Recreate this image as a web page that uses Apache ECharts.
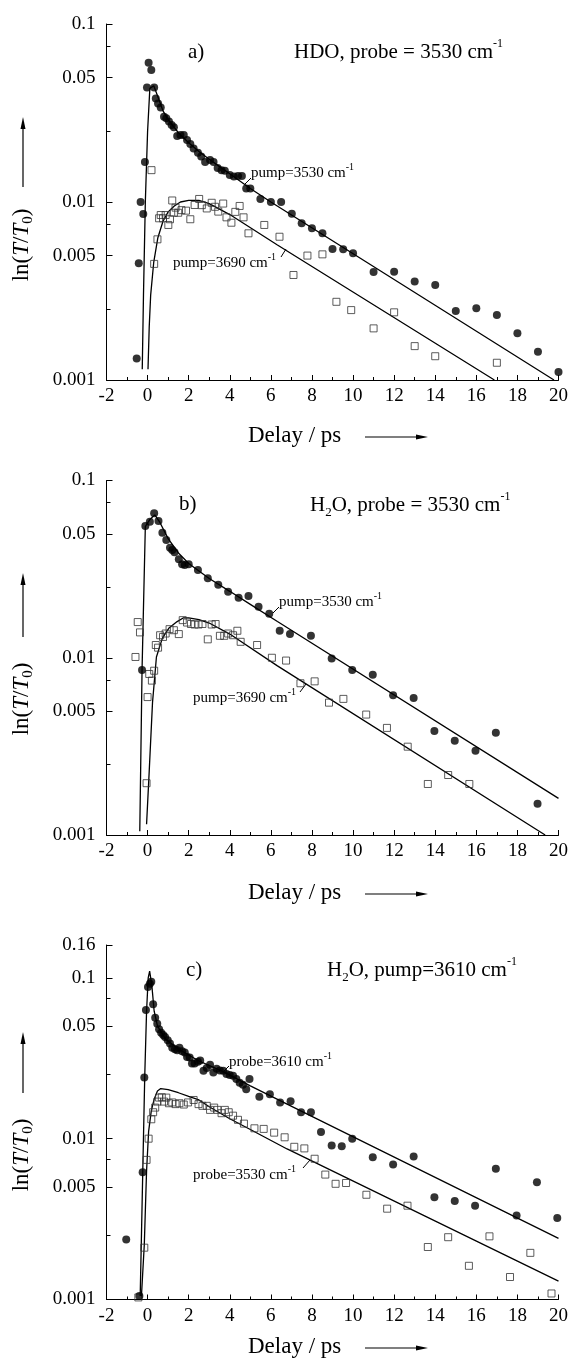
<!DOCTYPE html>
<html><head><meta charset="utf-8">
<script src="https://cdn.jsdelivr.net/npm/echarts@6/dist/echarts.min.js"></script>
<style>html,body{margin:0;padding:0;background:#fff}#c{width:571px;height:1363px}</style>
</head><body><div id="c"></div>
<script>
// ---------- tick definitions ----------
const xMin = -2, xMax = 20, xInterval = 2;
const yLabelsAB = [0.001, 0.005, 0.01, 0.05, 0.1];
const yLabelsC = [0.001, 0.005, 0.01, 0.05, 0.1, 0.16];
const yMinorTicks = [0.0025, 0.0075, 0.025, 0.075];

// ---------- panel a : HDO, probe = 3530 ----------
const aPump3530Points = [[-0.53,0.00132],[-0.43,0.00453],[-0.34,0.0100],[-0.21,0.00857],[-0.13,0.0168],[-0.03,0.0440],[0.05,0.0606],[0.18,0.0552],[0.32,0.0440],[0.40,0.0382],[0.51,0.0358],[0.64,0.0340],[0.80,0.0301],[0.91,0.0295],[1.04,0.0283],[1.17,0.0271],[1.28,0.0263],[1.44,0.0235],[1.60,0.0238],[1.76,0.0238],[1.92,0.0223],[2.08,0.0212],[2.24,0.0200],[2.45,0.0189],[2.61,0.0180],[2.80,0.0168],[3.04,0.0172],[3.21,0.0168],[3.41,0.0155],[3.60,0.0151],[3.76,0.0150],[4.00,0.0142],[4.20,0.0139],[4.40,0.0140],[4.59,0.0140],[4.80,0.0119],[5.00,0.0119],[5.49,0.0104],[6.00,0.0100],[6.50,0.0100],[7.02,0.0086],[7.50,0.0076],[8.00,0.00711],[8.51,0.00667],[9.00,0.00544],[9.52,0.00542],[10.0,0.00515],[11.0,0.00404],[12.0,0.00405],[13.0,0.00358],[14.0,0.00342],[15.0,0.00244],[16.0,0.00253],[17.0,0.00232],[18.0,0.00183],[19.0,0.00144],[20.0,0.00111]];
const aPump3690Points = [[0.19,0.0151],[0.32,0.00449],[0.48,0.00617],[0.56,0.0081],[0.64,0.00845],[0.75,0.0081],[0.88,0.00845],[1.01,0.00743],[1.09,0.0080],[1.20,0.0102],[1.28,0.0087],[1.36,0.0093],[1.49,0.0087],[1.65,0.0090],[1.87,0.00894],[2.08,0.0080],[2.29,0.00962],[2.51,0.0104],[2.64,0.0096],[2.88,0.0092],[3.12,0.0099],[3.28,0.0094],[3.44,0.00883],[3.68,0.0098],[3.84,0.0082],[4.08,0.00765],[4.27,0.0088],[4.48,0.0095],[4.67,0.0082],[4.91,0.00667],[5.68,0.00743],[6.42,0.00638],[7.10,0.00389],[7.78,0.0050],[8.51,0.00508],[9.19,0.00275],[9.91,0.00247],[11.0,0.00195],[12.0,0.0024],[13.0,0.00155],[14.0,0.00136],[17.0,0.00125]];
const aFit3530 = [[-0.26,0.00115],[-0.2,0.003],[-0.11,0.01],[0.0,0.025],[0.11,0.0435],[0.3,0.045],[0.5,0.039],[0.75,0.0325],[1,0.029],[1.5,0.0245],[2,0.0215],[2.5,0.0192],[3,0.0174],[3.5,0.0158],[4,0.0144],[5,0.0119],[6,0.0100],[19.78,0.001]];
const aFit3690 = [[0.02,0.00115],[0.08,0.002],[0.15,0.003],[0.3,0.0046],[0.5,0.0063],[0.75,0.0078],[1.0,0.0088],[1.3,0.0095],[1.6,0.0100],[2.0,0.0102],[2.5,0.0102],[3,0.0098],[4,0.0085],[6.32,0.00573],[16.88,0.001]];

// ---------- panel b : H2O, probe = 3530 ----------
const bPump3530Points = [[-0.27,0.00853],[-0.11,0.0554],[0.11,0.0586],[0.32,0.0653],[0.53,0.059],[0.72,0.0508],[0.91,0.0462],[1.09,0.0418],[1.20,0.0406],[1.31,0.0394],[1.52,0.0359],[1.68,0.0337],[1.81,0.0334],[2.0,0.0337],[2.45,0.0313],[2.93,0.0281],[3.44,0.0258],[3.92,0.0236],[4.43,0.0218],[4.91,0.0223],[5.40,0.0194],[5.92,0.0177],[6.43,0.0142],[6.93,0.0136],[7.95,0.0133],[8.96,0.00989],[9.96,0.00853],[10.96,0.00803],[11.95,0.00614],[12.95,0.00593],[13.96,0.00386],[14.95,0.0034],[15.96,0.00299],[16.95,0.00378],[18.98,0.0015]];
const bPump3690Points = [[-0.59,0.0101],[-0.48,0.0159],[-0.37,0.0139],[-0.05,0.00196],[0.0,0.006],[0.08,0.0081],[0.21,0.00743],[0.32,0.00845],[0.40,0.0118],[0.51,0.0114],[0.61,0.0134],[0.75,0.0131],[0.88,0.0137],[1.07,0.0145],[1.28,0.0143],[1.52,0.0136],[1.71,0.0163],[1.92,0.0158],[2.11,0.0155],[2.29,0.0154],[2.48,0.0154],[2.67,0.0155],[2.93,0.0127],[3.12,0.0154],[3.31,0.0155],[3.52,0.0133],[3.73,0.0133],[3.92,0.0137],[4.16,0.0134],[4.37,0.0142],[4.53,0.0123],[5.33,0.0118],[6.05,0.0100],[6.74,0.00964],[7.44,0.00718],[8.13,0.00736],[8.83,0.00558],[9.53,0.00586],[10.64,0.00478],[11.65,0.00402],[12.66,0.00315],[13.64,0.00194],[14.63,0.00218],[15.66,0.00194]];
const bFit3530 = [[-0.38,0.00105],[-0.27,0.0085],[-0.11,0.055],[0.1,0.06],[0.35,0.064],[0.6,0.058],[1.0,0.047],[1.5,0.039],[2.0,0.034],[3,0.028],[4,0.0237],[5,0.0200],[6.32,0.0160],[20,0.00161]];
const bFit3690 = [[-0.05,0.00115],[0.08,0.0023],[0.24,0.0056],[0.43,0.0101],[0.72,0.0129],[1.04,0.0147],[1.44,0.016],[1.75,0.0168],[2.0,0.0168],[2.5,0.0164],[3,0.0157],[4,0.0136],[6.32,0.009],[19.35,0.001]];

// ---------- panel c : H2O, pump = 3610 ----------
const cProbe3610Points = [[-1.04,0.00236],[-0.40,0.00105],[-0.24,0.00618],[-0.16,0.024],[-0.08,0.063],[0.02,0.0876],[0.11,0.092],[0.18,0.0944],[0.27,0.0684],[0.37,0.0565],[0.47,0.0519],[0.56,0.0479],[0.66,0.0456],[0.76,0.0441],[0.85,0.0429],[0.98,0.0409],[1.09,0.039],[1.20,0.0368],[1.33,0.036],[1.44,0.0355],[1.55,0.0368],[1.68,0.035],[1.81,0.0343],[1.92,0.0322],[2.05,0.032],[2.16,0.0293],[2.29,0.0293],[2.45,0.0301],[2.56,0.0306],[2.72,0.0264],[2.88,0.0275],[3.04,0.0288],[3.20,0.0258],[3.36,0.0272],[3.52,0.0265],[3.68,0.0264],[3.84,0.0252],[4.00,0.0249],[4.16,0.0246],[4.32,0.0235],[4.48,0.0223],[4.64,0.0216],[4.80,0.0203],[4.96,0.0235],[5.44,0.0182],[5.95,0.0189],[6.45,0.0168],[6.96,0.0171],[7.47,0.0146],[7.95,0.0146],[8.44,0.011],[8.96,0.00908],[9.45,0.00896],[9.96,0.0100],[10.96,0.00766],[11.95,0.0069],[12.95,0.00775],[13.96,0.00433],[14.95,0.00409],[15.94,0.00383],[16.95,0.00649],[17.96,0.00333],[18.95,0.00536],[19.94,0.00321]];
const cProbe3530Points = [[-0.45,0.00103],[-0.16,0.0021],[-0.05,0.00738],[0.05,0.010],[0.18,0.0132],[0.27,0.0146],[0.37,0.0156],[0.48,0.017],[0.56,0.018],[0.69,0.0181],[0.80,0.017],[0.91,0.018],[1.04,0.0166],[1.20,0.0168],[1.36,0.0164],[1.55,0.0166],[1.76,0.0163],[1.97,0.0168],[2.24,0.0174],[2.48,0.0164],[2.67,0.016],[2.88,0.016],[3.04,0.0151],[3.24,0.0156],[3.40,0.0151],[3.60,0.0144],[3.76,0.0151],[3.95,0.0146],[4.16,0.0139],[4.40,0.0131],[4.69,0.0124],[5.20,0.0116],[5.65,0.0115],[6.16,0.0109],[6.67,0.0102],[7.14,0.0089],[7.63,0.0087],[8.13,0.0075],[8.65,0.00598],[9.15,0.00524],[9.66,0.0053],[10.65,0.00448],[11.66,0.00367],[12.65,0.00383],[13.64,0.00212],[14.63,0.00244],[15.64,0.00162],[16.64,0.00247],[17.64,0.00138],[18.63,0.00195],[19.66,0.00109]];
const cFit3610 = [[-0.36,0.00105],[-0.24,0.0058],[-0.14,0.024],[-0.05,0.062],[0.03,0.1],[0.1,0.11],[0.21,0.0888],[0.32,0.062],[0.48,0.0502],[0.88,0.0415],[1.52,0.036],[2.48,0.0305],[3.76,0.0258],[5,0.0213],[6.79,0.0164],[20,0.0024]];
const cFit3530 = [[-0.3,0.00105],[-0.16,0.0022],[-0.05,0.0063],[0.05,0.0111],[0.18,0.0149],[0.32,0.0176],[0.48,0.0198],[0.64,0.0205],[1.0,0.0202],[1.5,0.0193],[2.0,0.0183],[2.5,0.0174],[3,0.0158],[4,0.0133],[5,0.0114],[6.79,0.00863],[20,0.0013]];

// ---------- text ----------
const F = '"Liberation Serif","Times New Roman",serif';

const grids = [
  {left: 106.5, width: 458.5, top: 24, height: 356},
  {left: 106.5, width: 458.5, top: 480.5, height: 354.5},
  {left: 106.5, width: 458.5, top: 945, height: 354.5}
];
const yMax = [0.1, 0.1, 0.16];
const yLabelSets = [yLabelsAB, yLabelsAB, yLabelsC];

const fmtY = v => String(parseFloat(Number(v).toPrecision(6)));

const xAxes = [], yAxes = [];
grids.forEach((g, i) => {
  xAxes.push({
    type: 'value', gridIndex: i, position: 'bottom', min: xMin, max: xMax, interval: xInterval,
    axisLine: {onZero: false, lineStyle: {color: '#000', width: 1}},
    axisTick: {inside: true, length: 5, lineStyle: {color: '#000'}},
    minorTick: {show: true, splitNumber: 2, length: 3, lineStyle: {color: '#000'}},
    splitLine: {show: false},
    axisLabel: {color: '#000', fontFamily: F, fontSize: 19, margin: 7}
  });
  yAxes.push({
    type: 'log', logBase: 10, gridIndex: i, position: 'left', min: 0.001, max: yMax[i],
    axisLine: {show: true, onZero: false, lineStyle: {color: '#000', width: 1}},
    axisTick: {show: true, inside: true, length: 6, lineStyle: {color: '#000'}, customValues: yLabelSets[i]},
    axisLabel: {color: '#000', fontFamily: F, fontSize: 19, margin: 11, customValues: yLabelSets[i], formatter: fmtY},
    splitLine: {show: false}
  });
  yAxes.push({
    type: 'log', logBase: 10, gridIndex: i, position: 'left', offset: 0, min: 0.001, max: yMax[i],
    axisLine: {show: false, onZero: false},
    axisTick: {show: true, inside: true, length: 4, lineStyle: {color: '#000'}, customValues: yMinorTicks},
    axisLabel: {show: false},
    splitLine: {show: false}
  });
});

function lineSeries(data, i) {
  return {type: 'line', xAxisIndex: i, yAxisIndex: 2 * i, data: data, showSymbol: false, symbol: 'none',
    lineStyle: {color: '#000', width: 1.3}, z: 2, silent: true};
}
function circleSeries(data, i) {
  return {type: 'scatter', xAxisIndex: i, yAxisIndex: 2 * i, data: data, symbol: 'circle', symbolSize: 8,
    itemStyle: {color: '#000'}, z: 4, silent: true};
}
function squareSeries(data, i) {
  return {type: 'scatter', xAxisIndex: i, yAxisIndex: 2 * i, data: data, symbol: 'rect', symbolSize: 7,
    itemStyle: {color: 'rgba(255,255,255,0)', borderColor: '#333', borderWidth: 1}, z: 3, silent: true};
}

const series = [
  lineSeries(aFit3530, 0), lineSeries(aFit3690, 0), circleSeries(aPump3530Points, 0), squareSeries(aPump3690Points, 0),
  lineSeries(bFit3530, 1), lineSeries(bFit3690, 1), circleSeries(bPump3530Points, 1), squareSeries(bPump3690Points, 1),
  lineSeries(cFit3610, 2), lineSeries(cFit3530, 2), circleSeries(cProbe3610Points, 2), squareSeries(cProbe3530Points, 2)
];

// ---------- decorations ----------
const richBig = {
  t: {fontFamily: F, fontSize: 21, lineHeight: 28, color: '#000'},
  sub: {fontFamily: F, fontSize: 13, lineHeight: 14, verticalAlign: 'bottom', color: '#000'},
  sup: {fontFamily: F, fontSize: 12, lineHeight: 12, verticalAlign: 'top', color: '#000'}
};
const richSmall = {
  t: {fontFamily: F, fontSize: 15, lineHeight: 22, color: '#000'},
  sup: {fontFamily: F, fontSize: 10, lineHeight: 10, verticalAlign: 'top', color: '#000'}
};
const richY = {
  t: {fontFamily: F, fontSize: 23, lineHeight: 28, color: '#000'},
  i: {fontFamily: F, fontSize: 23, lineHeight: 28, fontStyle: 'italic', color: '#000'},
  sub: {fontFamily: F, fontSize: 15, lineHeight: 15, verticalAlign: 'bottom', color: '#000'}
};
function txt(x, y, text, rich, rot) {
  return {type: 'text', x: x, y: y, rotation: rot || 0, silent: true,
    style: {text: text, rich: rich, align: rot ? 'center' : 'left', verticalAlign: 'middle', fill: '#000'}};
}
function seg(x1, y1, x2, y2, w) {
  return {type: 'line', silent: true, shape: {x1, y1, x2, y2}, style: {stroke: '#000', lineWidth: w || 1}};
}
function poly(points) {
  return {type: 'polygon', silent: true, shape: {points}, style: {fill: '#000'}};
}
const graphics = [];
graphics.push(txt(188, 52, '{t|a)}', richBig));
graphics.push(txt(294, 52, '{t|HDO, probe = 3530 cm}{sup|-1}', richBig));
graphics.push(txt(179, 504, '{t|b)}', richBig));
graphics.push(txt(310, 505, '{t|H}{sub|2}{t|O, probe = 3530 cm}{sup|-1}', richBig));
graphics.push(txt(186, 970, '{t|c)}', richBig));
graphics.push(txt(327, 970, '{t|H}{sub|2}{t|O, pump=3610 cm}{sup|-1}', richBig));
graphics.push(txt(251, 173, '{t|pump=3530 cm}{sup|-1}', richSmall));
graphics.push(seg(251, 178, 245, 184));
graphics.push(txt(173, 263, '{t|pump=3690 cm}{sup|-1}', richSmall));
graphics.push(seg(281, 257, 286, 249));
graphics.push(txt(279, 602, '{t|pump=3530 cm}{sup|-1}', richSmall));
graphics.push(seg(279, 607, 273, 613));
graphics.push(txt(193, 698, '{t|pump=3690 cm}{sup|-1}', richSmall));
graphics.push(seg(300, 692, 306, 684));
graphics.push(txt(229, 1062, '{t|probe=3610 cm}{sup|-1}', richSmall));
graphics.push(seg(229, 1066, 224, 1071));
graphics.push(txt(193, 1175, '{t|probe=3530 cm}{sup|-1}', richSmall));
graphics.push(seg(303, 1168, 310, 1160));
[[245, 117, 187], [699, 573, 637], [1155, 1032, 1093]].forEach(([cy, top, bot]) => {
  graphics.push(txt(22, cy, '{t|ln(}{i|T}{t|/}{i|T}{sub|0}{t|)}', richY, Math.PI / 2));
  graphics.push(seg(23, bot, 23, top + 8, 1.2));
  graphics.push(poly([[23, top], [20.5, top + 12], [25.5, top + 12]]));
});
[436, 893, 1347].forEach(cy => {
  graphics.push(txt(248, cy, '{t|Delay / ps}', {t: {fontFamily: F, fontSize: 23, lineHeight: 26, color: '#000'}}));
  graphics.push(seg(365, cy + 1, 418, cy + 1, 1.2));
  graphics.push(poly([[428, cy + 1], [416, cy - 1.5], [416, cy + 3.5]]));
});

const chart = echarts.init(document.getElementById('c'), null, {renderer: 'canvas'});
chart.setOption({
  animation: false,
  backgroundColor: '#fff',
  grid: grids,
  xAxis: xAxes,
  yAxis: yAxes,
  series: series,
  graphic: graphics
});
</script></body></html>
